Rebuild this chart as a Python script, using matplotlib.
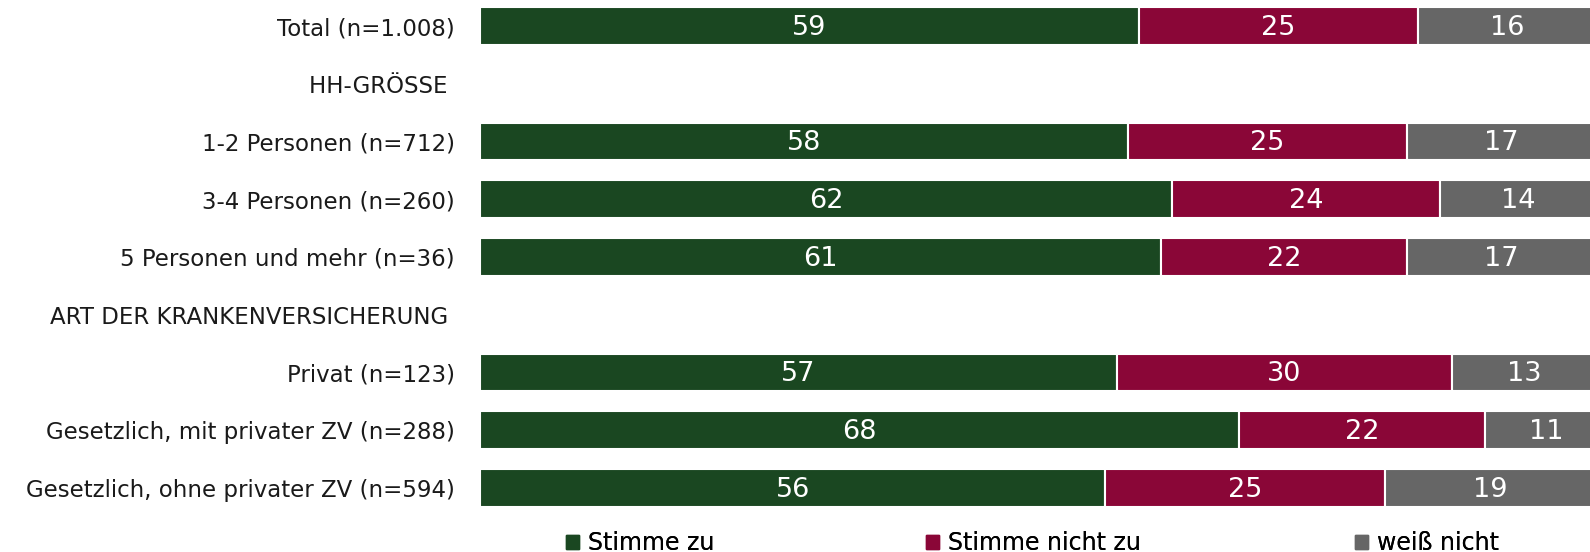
import matplotlib
matplotlib.use("Agg")
import matplotlib.pyplot as plt
from matplotlib.patches import Patch
import numpy as np

plt.rcParams['font.family'] = ['DejaVu Sans']

categories = ["Total (n=1.008)", "HH-GRÖSSE ", "1-2 Personen (n=712)", "3-4 Personen (n=260)",
              "5 Personen und mehr (n=36)", "ART DER KRANKENVERSICHERUNG ", "Privat (n=123)",
              "Gesetzlich, mit privater ZV (n=288)", "Gesetzlich, ohne privater ZV (n=594)"]
stimme_zu = [59, None, 58, 62, 61, None, 57, 68, 56]
stimme_nicht_zu = [25, None, 25, 24, 22, None, 30, 22, 25]
weiss_nicht = [16, None, 17, 14, 17, None, 13, 11, 19]
series_names = ["Stimme zu", "Stimme nicht zu", "weiß nicht"]
colors = ["#1A4721", "#8A0637", "#666666"]

W, H = 1590, 552
fig = plt.figure(figsize=(W / 100, H / 100), dpi=100)
ax = fig.add_axes([480 / W, 1 - 516.85 / H, 1 - 480 / W, 519.7 / H])

y = np.arange(len(categories))
left = np.zeros(len(categories))
for vals, col in zip([stimme_zu, stimme_nicht_zu, weiss_nicht], colors):
    for i, v in enumerate(vals):
        if v is None:
            continue
        ax.barh(y[i], v, left=left[i], height=0.65, color=col, edgecolor="white", linewidth=1.5)
        ax.text(left[i] + v / 2, y[i] + 0.03, str(v), ha="center", va="center", color="white", fontsize=19.5)
        left[i] += v

ax.set_xlim(0, 99.4)
ax.set_ylim(len(categories) - 0.5, -0.5)
ax.set_yticks(y)
ax.set_yticklabels(categories, fontsize=16.5, color="#1a1a1a")
ax.tick_params(axis="y", length=0, pad=18)
ax.set_xticks([])
for s in ax.spines.values():
    s.set_visible(False)

xs = [568 / W, 928 / W, 1357 / W]
for name, col, x in zip(series_names, colors, xs):
    leg = fig.legend(handles=[Patch(color=col)], labels=[name], loc="center left",
                     bbox_to_anchor=(x - 0.001, 1 - 543 / H), frameon=False, fontsize=17,
                     handlelength=0.55, handleheight=0.55, handletextpad=0.35, borderaxespad=0, borderpad=0)
    fig.add_artist(leg)

fig.savefig("out.png", dpi=100)
